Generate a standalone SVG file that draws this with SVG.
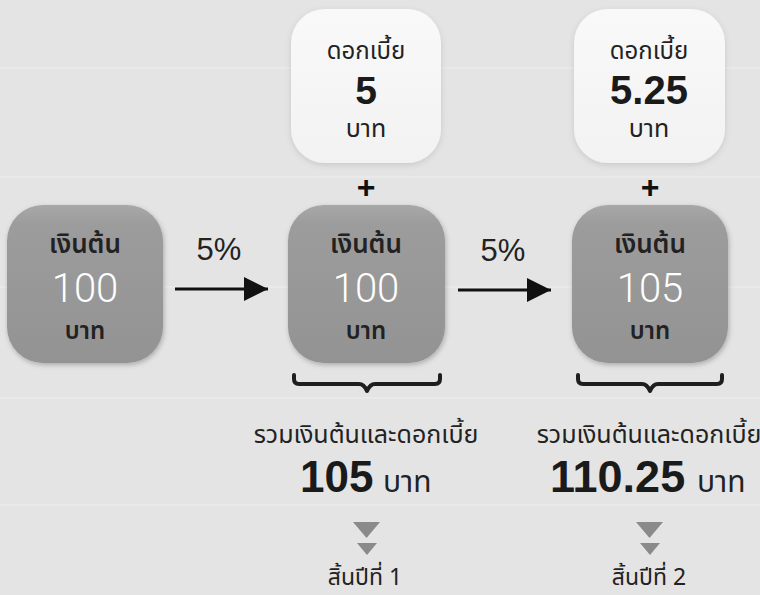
<svg xmlns="http://www.w3.org/2000/svg" width="760" height="595" viewBox="0 0 760 595">
<defs>
<linearGradient id="gbox" x1="0" y1="0" x2="0" y2="1">
<stop offset="0" stop-color="#a8a8a8"/>
<stop offset="0.12" stop-color="#9c9c9c"/>
<stop offset="1" stop-color="#939393"/>
</linearGradient>
<linearGradient id="wbox" x1="0" y1="0" x2="0" y2="1">
<stop offset="0" stop-color="#f9f9f9"/>
<stop offset="1" stop-color="#f2f2f2"/>
</linearGradient>
<filter id="sh" x="-20%" y="-20%" width="140%" height="140%">
<feDropShadow dx="1" dy="2" stdDeviation="2.5" flood-color="#000" flood-opacity="0.25"/>
</filter>
<filter id="shw" x="-20%" y="-20%" width="140%" height="140%">
<feDropShadow dx="0" dy="2" stdDeviation="3" flood-color="#000" flood-opacity="0.12"/>
</filter>
<marker id="ah" viewBox="0 0 10 10" refX="10" refY="5" markerWidth="7.5" markerHeight="8" markerUnits="strokeWidth" orient="auto">
<path d="M0,0 L10,5 L0,10 Z" fill="#111"/>
</marker>
</defs>
<style>
.th{font-family:"Noto Sans Thai","Noto Sans Thai Looped","Noto Sans","DejaVu Sans",sans-serif;fill:#222;text-anchor:middle}
.ths{font-family:"Noto Sans Thai","Noto Sans Thai Looped","Noto Sans","DejaVu Sans",sans-serif;fill:#222;text-anchor:start}
.num{font-family:"Liberation Sans",Arial,sans-serif;text-anchor:middle}
.nums{font-family:"Liberation Sans",Arial,sans-serif;text-anchor:start;font-weight:bold;fill:#1a1a1a}
.lt{font-family:Roboto,"Open Sans","Liberation Sans",sans-serif;font-weight:300;fill:#fff;text-anchor:middle}
.gbox{fill:url(#gbox);filter:url(#sh)}
.wbox{fill:url(#wbox);filter:url(#shw)}
.brace{fill:none;stroke:#1e1e1e;stroke-width:4;stroke-linejoin:round;stroke-linecap:round}
.tri{fill:#8a8a8a}
.band{stroke:#e9e9e9;stroke-width:2}
</style>
<rect x="0" y="0" width="760" height="595" fill="#e4e4e4"/>
<g id="bands">
<line class="band" x1="0" y1="68" x2="760" y2="68"/>
<line class="band" x1="0" y1="177" x2="760" y2="177"/>
<line class="band" x1="0" y1="287" x2="760" y2="287"/>
<line class="band" x1="0" y1="398" x2="760" y2="398"/>
<line class="band" x1="0" y1="505" x2="760" y2="505"/>
</g>

<g id="interest1">
<rect class="wbox" x="291" y="9" width="150" height="154" rx="34"/>
<text class="th" x="366" y="59" font-size="24">ดอกเบี้ย</text>
<text class="num" x="366" y="104" font-size="39" font-weight="bold" fill="#1a1a1a">5</text>
<text class="th" x="366" y="137" font-size="25">บาท</text>
</g>
<g id="interest2">
<rect class="wbox" x="574" y="9" width="151" height="154" rx="34"/>
<text class="th" x="649" y="59" font-size="24">ดอกเบี้ย</text>
<text class="num" x="649" y="104" font-size="40" font-weight="bold" fill="#1a1a1a">5.25</text>
<text class="th" x="649" y="137" font-size="25">บาท</text>
</g>

<g id="plus1"><text class="num" x="366" y="198" font-size="32" font-weight="bold" fill="#111">+</text></g>
<g id="plus2"><text class="num" x="650" y="198" font-size="32" font-weight="bold" fill="#111">+</text></g>

<g id="principal0">
<rect class="gbox" x="7" y="205" width="156" height="158" rx="36"/>
<text class="th" x="85" y="253" font-size="26" font-weight="600">เงินต้น</text>
<text class="lt" x="85" y="302" font-size="40">100</text>
<text class="th" x="85" y="339" font-size="24" font-weight="600">บาท</text>
</g>
<g id="principal1">
<rect class="gbox" x="288" y="205" width="157" height="158" rx="36"/>
<text class="th" x="366" y="253" font-size="26" font-weight="600">เงินต้น</text>
<text class="lt" x="366" y="302" font-size="40">100</text>
<text class="th" x="366" y="339" font-size="24" font-weight="600">บาท</text>
</g>
<g id="principal2">
<rect class="gbox" x="572" y="205" width="156" height="158" rx="36"/>
<text class="th" x="650" y="253" font-size="26" font-weight="600">เงินต้น</text>
<text class="lt" x="650" y="302" font-size="40">105</text>
<text class="th" x="650" y="339" font-size="24" font-weight="600">บาท</text>
</g>

<g id="connectors">
<line x1="175" y1="289" x2="268" y2="289" stroke="#111" stroke-width="3.2" marker-end="url(#ah)"/>
<text class="num" x="219" y="260" font-size="31" fill="#222">5%</text>
<line x1="458" y1="290" x2="551" y2="290" stroke="#111" stroke-width="3.2" marker-end="url(#ah)"/>
<text class="num" x="503" y="261" font-size="31" fill="#222">5%</text>
</g>

<g id="brace1">
<path class="brace" d="M294,375 V379 Q294,384 299,384 H359 Q364,384 367,391 Q370,384 375,384 H435 Q440,384 440,379 V375"/>
</g>
<g id="brace2">
<path class="brace" d="M578,375 V379 Q578,384 583,384 H642 Q647,384 650,391 Q653,384 658,384 H717 Q722,384 722,379 V375"/>
</g>

<g id="total1">
<text class="th" x="366" y="443" font-size="25">รวมเงินต้นและดอกเบี้ย</text>
<text class="nums" x="300" y="492" font-size="44">105</text>
<text class="ths" x="383" y="492" font-size="30">บาท</text>
</g>
<g id="total2">
<text class="th" x="649" y="443" font-size="25">รวมเงินต้นและดอกเบี้ย</text>
<text class="nums" x="550" y="492" font-size="45">110.25</text>
<text class="ths" x="697" y="492" font-size="30">บาท</text>
</g>

<g id="down1">
<polygon class="tri" points="353,522 380,522 366.5,538"/>
<polygon class="tri" points="357,543 377,543 367,555"/>
</g>
<g id="down2">
<polygon class="tri" points="636,522 663,522 649.5,538"/>
<polygon class="tri" points="640,543 660,543 650,555"/>
</g>

<g id="year1"><text class="th" x="365" y="585" font-size="23">สิ้นปีที่ 1</text></g>
<g id="year2"><text class="th" x="649" y="585" font-size="23">สิ้นปีที่ 2</text></g>
</svg>
